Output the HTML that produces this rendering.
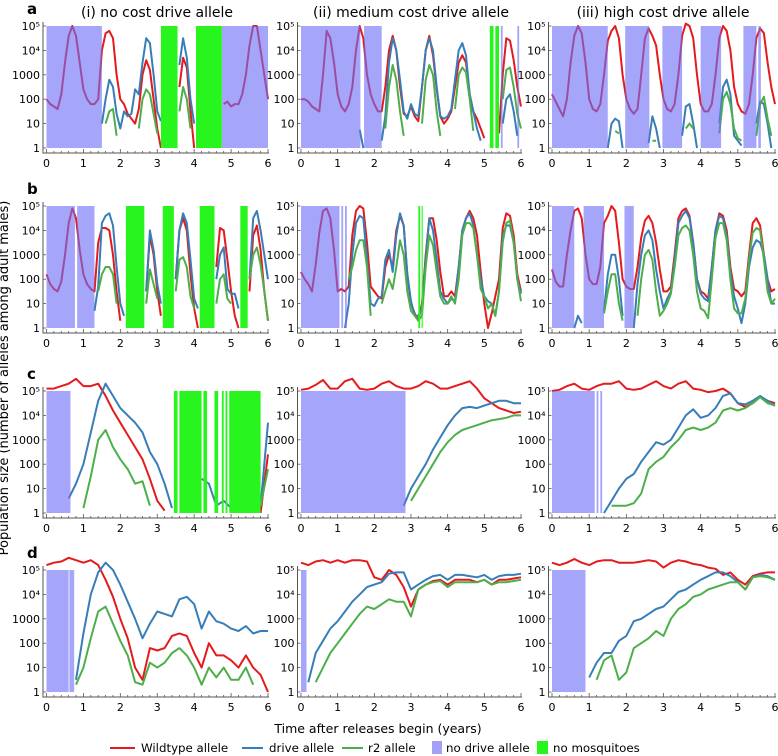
<!DOCTYPE html>
<html><head><meta charset="utf-8"><style>
html,body{margin:0;padding:0;background:#fff;}
svg{display:block;font-family:"DejaVu Sans","Liberation Sans",sans-serif;}
</style></head><body>
<svg id="fig" width="778" height="756" viewBox="0 0 778 756">
<text x="8" y="378" font-size="13" text-anchor="middle" transform="rotate(-90 8 378)">Population size (number of alleles among adult males)</text>
<text x="378" y="733" font-size="12.5" text-anchor="middle">Time after releases begin (years)</text>
<text x="157" y="17" font-size="14" text-anchor="middle">(i) no cost drive allele</text>
<text x="411" y="17" font-size="14" text-anchor="middle">(ii) medium cost drive allele</text>
<text x="663" y="17" font-size="14" text-anchor="middle">(iii) high cost drive allele</text>
<g font-size="11.8">
<line x1="110" y1="748" x2="135" y2="748" stroke="#e41a1c" stroke-width="2"/>
<text x="141" y="752">Wildtype allele</text>
<line x1="242" y1="748" x2="263" y2="748" stroke="#377eb8" stroke-width="2"/>
<text x="269" y="752">drive allele</text>
<line x1="342" y1="748" x2="363" y2="748" stroke="#4daf4a" stroke-width="2"/>
<text x="368" y="752">r2 allele</text>
<rect x="432" y="741" width="10" height="13" fill="rgb(110,110,245)" opacity="0.65"/>
<text x="446" y="752">no drive allele</text>
<rect x="537" y="741" width="11" height="13" fill="rgb(40,245,30)"/>
<text x="553" y="752">no mosquitoes</text>
</g>
</svg>
<script>
function N(k){return new Array(k).fill(null);}
// ---- data (log10 of allele count), sampled evenly over 0..6 years ----
const a1Wild=[2,1.8,1.7,1.6,2.2,3.5,4.6,5,4.6,3.5,2.4,2,1.8,1.8,2,4,4.7,4.8,4.5,3,2,1.8,1.4,1.2,1,1.6,3,3.6,3.2,2,0.8,0,null,null,null,null,2.5,3.7,3.3,1.5,0,null,null,null,null,null,null,null,1.8,1.9,1.7,1.8,1.8,2.2,3,4.2,5,5,4,3,2];
const a1Drive=[...N(15),1,2,2.8,2.5,1.4,0.8,1.5,1.3,1.4,2.4,2.2,3.5,4.5,4.3,3,1.5,1.1,...N(4),3.4,4.5,3.7,2,1,...N(20)];
const a1R2=[...N(16),1,1.5,1.6,0.5,...N(5),0.8,2,2.4,2.2,1.4,0.6,...N(5),1.5,2.5,2,0.8,...N(21)];
const a2Wild=[2,2,1.9,1.7,1.6,1.5,3,4.8,4.5,3.5,2.2,1.7,1.5,1.8,2.5,4,5,4.5,3,2.2,1.8,1.5,1.5,2.5,4,4.6,4.0,2.5,1.4,1.3,1.7,1.3,1.1,2.5,4,4.6,3.8,2.4,1.3,1.0,1.2,1.5,2.5,3.5,3.8,3.5,2.2,1.5,1.2,0.8,0.4,null,null,null,0.6,3,4.5,4.4,3.6,2.5,1.7];
const a2Drive=[...N(16),0.75,0,...N(4),0.3,1.3,3.5,4.5,4,2.8,1.5,1.2,1.8,1.4,1.3,2.5,4,4.5,4,2.5,1.3,1.2,1.3,1.6,2.8,4,4.3,3.8,2.2,1.5,0.8,0.3,...N(5),1,2,2.2,1.5,0.5,null];
const a2R2=[...N(23),0.8,2.5,3.4,2.8,1.5,0.5,...N(4),1,2.8,3.4,3,1.5,0.5,...N(3),1.6,3,3.3,3.1,2,0.7,...N(7),2,3.2,3.3,2.5,1.4,0.8];
const a3Wild=[2.2,1.9,1.6,1.3,2,3.5,4.6,5,4.7,3.5,2,1.6,1.5,1.8,3,4.4,4.8,5,4.5,3,2,1.6,1.4,1.6,3,4.5,4.9,4.6,4.2,3,2,1.6,1.5,1.8,3,4.6,5.1,5,4.5,3,1.8,1.5,1.5,1.8,3,4.5,5,4.8,4,2.5,1.8,1.5,1.4,1.8,3,4.5,4.9,4.7,3.5,2.5,1.8];
const a3Drive=[...N(15),0,1,1.2,1.1,0,...N(6),0.2,1.3,0.8,0,...N(5),0.5,1.7,1.8,1,0,...N(5),1,2.5,2.8,2.2,0.5,0.3,0.1,...N(3),1,1.9,1.8,1,0,null];
const a3R2=[...N(17),0.7,0.6,...N(8),0.3,0.3,...N(7),0.8,1,0.8,...N(6),0.6,2,2.3,1.8,0.8,0.4,0.3,...N(3),0.5,1.8,2.1,1.2,0.5,null];
const b1Wild=[2.2,1.8,1.6,1.5,1.9,3,4.3,4.9,4.5,3.2,2.2,1.8,1.6,1.5,3.5,4.1,4.1,4.0,3,1.5,0.3,...N(6),1.5,3.8,3.0,1.5,0.5,...N(3),2,4,4.5,4,2.2,0.8,0,...N(4),2.5,4.1,4,2.8,1.5,0.5,0,...N(2),1.5,3.8,4.2,3.2,1.5,0.3];
const b1Drive=[...N(13),0.7,1.7,4.3,4.6,4.7,4.2,2.5,1,0.5,...N(5),1.5,4,3.2,1.8,1,...N(3),2,4,4.7,4.3,2.8,1.2,0.8,...N(4),2,3,3.3,1.6,1.4,1.4,0.8,...N(2),2,4.5,4.8,4,3,2];
const b1R2=[...N(14),1.5,2.2,2.5,2.5,2.2,1,...N(7),1,2.4,1.8,1.2,...N(4),1.5,2.8,2.9,2.5,1.3,0.8,...N(5),1,2,2.2,1.2,1,...N(4),2,3,3.3,2.6,1.5,0.3];
const b2Wild=[2.3,2,1.8,1.5,2.6,3.9,4.8,4.9,4.5,3.2,1.5,1.6,1.5,1.7,3.8,4.8,5,4.9,3.5,1.7,1.5,1.3,1.2,2.5,3,2.5,4,4.6,4.2,2.2,1,0.6,0.3,1,3,4.5,4.5,3.6,2.3,1.3,1.3,1.5,1.3,2.5,4,4.5,4.8,4.5,3.8,2.3,1,0,0.6,1.3,2,4.1,4.7,4.6,3.8,2.2,1.5];
const b2Drive=[...N(12),0,1,3,4.3,4.6,4.5,2.8,1,0.9,1.2,1.3,2.8,3.2,2.3,3.8,4.7,4.2,2.2,1.1,0.5,0.5,0.8,2.8,4.5,4,2.8,1.5,1.2,1,1.2,1.1,2.5,4,4.5,4.7,4.2,3,2,1.3,1.1,1,0.5,1.5,3.8,4.2,4.2,3.5,2,1.4];
const b2R2=[...N(13),2,2.5,3.2,3.6,3.6,2.5,0.5,null,null,1,1.5,2,1.6,2.5,3.6,3,1.5,0.7,0.5,0.3,0.5,2.5,3.8,3.4,2.3,1.3,1,1,1.3,1,2,3.8,4.3,4.3,4.1,3,1.6,1.3,0.8,1,0.5,1.5,3.5,4.3,4.4,3.5,2,1.1];
const b3Wild=[2.4,1.9,1.7,1.7,3,4,4.8,4.9,4.5,3,2,1.8,1.8,2.5,4.3,4.6,5,4.8,3.5,2,1.7,1.6,1.6,2.5,3.7,4.4,4.6,4.3,3.5,2.4,1.5,1.5,1.7,3,4.5,4.8,4.9,4.6,3.5,2,1.5,1.4,1.2,2.5,4,4.7,4.6,4,2.5,1.6,1.5,1.3,1.5,3,4.3,4.5,4.2,3,2,1.5,1.6];
const b3Drive=[...N(6),0,0.5,0.2,...N(5),0.7,2.2,3,3,2,0.5,...N(2),0,1.8,3,3.8,4,3.6,2.4,1.5,0.8,1.2,1.5,2.8,4.3,4.6,4.8,4.5,3.5,2,1.4,1.2,1.1,2.5,4,4.6,4.5,3.8,2.3,1.3,0.8,0.2,1,2.5,3.3,3.6,3.5,3,2,1,1];
const b3R2=[...N(14),0.6,1.5,2.2,2.2,1,0.3,...N(3),0.5,2,3,3.2,2.8,1.5,0.5,0.7,1,1.4,2.5,3.8,4.1,4.2,4,3,1.5,0.8,0.7,0.4,2,3.7,4.3,4.3,3.6,2,0.8,0.6,0.6,1.2,2.8,3.9,4.1,4,2.8,1.5,1,1.2];
const c1Wild=[5.1,5.1,5.2,5.3,5.5,5.2,5.2,5.3,4.8,4.2,3.7,3.2,2.7,2.2,1.4,0.5,0.1,...N(12),0,2.4];
const c1Drive=[...N(3),0.6,1.2,2,3.3,4.6,5.3,4.8,4.3,4.0,3.7,3.3,2.5,2,1.2,0.2,...N(3),1.4,1.2,0.3,0.5,0.2,...N(3),0.3,3.7];
const c1R2=[...N(5),0.2,1.5,3,3.4,2.7,2.2,1.8,1.2,1.3,0.3,...N(14),0.3,1.8];
const c2Wild=[5.05,5.1,5.25,5.45,5.1,5.1,5.4,5.5,5.1,5.05,5.1,5.3,5.4,5.2,5.1,5.1,5.2,5.4,5.3,5.1,5.1,5.2,5.3,5.4,5.1,4.7,4.5,4.3,4.2,4.1,4.15];
const c2Drive=[...N(14),0.3,1,1.5,2,2.6,3.1,3.6,4.0,4.3,4.35,4.3,4.4,4.5,4.6,4.6,4.5,4.5];
const c2R2=[...N(15),0.5,1,1.5,2,2.5,2.9,3.2,3.4,3.5,3.6,3.7,3.8,3.85,3.9,4,4];
const c3Wild=[5,5.05,5.2,5.3,5.1,5.05,5.2,5.3,5.3,5.4,5.1,5.05,5.1,5.25,5.4,5.2,5.1,5.3,5.4,5.1,5.05,4.95,5,5.1,4.9,4.5,4.35,4.5,4.75,4.6,4.5];
const c3Drive=[...N(7),0,0.5,1,1.4,1.6,2.1,2.5,2.9,2.8,3,3.5,4,4.25,3.9,4,4.3,4.8,4.9,4.5,4.45,4.6,4.8,4.6,4.4];
const c3R2=[...N(8),0.3,0.3,0.3,0.4,0.8,1.8,2.1,2.3,2.7,3,3.4,3.5,3.4,3.5,3.7,4.2,4.3,4.2,4.3,4.5,4.75,4.5,4.4];
const d1Wild=[5.2,5.3,5.35,5.5,5.4,5.3,5.4,5.2,4.6,3.9,3.0,2.2,1,0.5,1.8,1.7,1.8,2.3,2.4,2.3,1.6,1,2,1.5,1.5,1.3,1,1.5,1,0.7,0];
const d1Drive=[...N(4),0.5,2.4,4,4.9,5.3,5,4.4,3.7,3,2.2,2.8,3.3,3.2,3.1,3.8,3.9,3.6,2.6,3.3,2.9,2.8,2.6,2.5,2.7,2.4,2.5,2.5];
const d1R2=[...N(4),0.3,1,2.2,3.3,3.5,2.8,2.1,1.5,0.4,0.3,1.2,1,1.2,1.6,1.8,1.5,1,0.3,1,0.6,1,0.5,0.5,1,0.3,null,null];
const d2Wild=[5.3,5.2,5.35,5.4,5.3,5.4,5.3,5.4,5.4,5.35,4.7,4.6,5.0,4.8,4.3,3.5,4.2,4.4,4.55,4.6,4.4,4.6,4.6,4.6,4.5,4.6,4.4,4.6,4.6,4.65,4.7];
const d2Drive=[null,0.4,1.6,2.1,2.6,2.9,3.3,3.7,4.0,4.3,4.4,4.5,4.85,4.9,4.9,4.2,4.4,4.6,4.75,4.8,4.6,4.8,4.8,4.75,4.7,4.8,4.6,4.75,4.8,4.8,4.85];
const d2R2=[null,null,0.4,1,1.6,2,2.4,2.8,3.2,3.5,3.4,3.6,3.8,3.7,3.7,3.1,4.2,4.4,4.5,4.55,4.3,4.5,4.5,4.5,4.5,4.6,4.4,4.5,4.5,4.55,4.6];
const d3Wild=[5.3,5.2,5.3,5.45,5.3,5.2,5.35,5.4,5.4,5.3,5.3,5.3,5.35,5.4,5.35,5.1,5.3,5.4,5.35,5.25,5.2,5.1,5.05,4.8,4.9,4.6,4.4,4.75,4.85,4.9,4.9];
const d3Drive=[...N(5),0.6,1.2,1.6,1.6,2.1,2.3,2.9,3,3.2,3.4,3.5,3.8,4.1,4.2,4.4,4.6,4.75,4.9,4.9,4.75,4.5,4.2,4.7,4.8,4.75,4.6];
const d3R2=[...N(6),0.5,1.3,1.5,0.5,0.8,1.8,2,2.2,2.5,2.3,3,3.4,3.6,3.9,4,4.2,4.3,4.4,4.5,4.5,4.2,4.7,4.75,4.7,4.6];
// intervals (years)
const a1NoDrive=[[0,1.5],[4.75,6]];
const a1NoMosq=[[3.1,3.55],[4.05,4.75]];
const a2NoDrive=[[0,1.62],[1.72,2.2],[5.45,5.5],[5.9,5.95]];
const a2NoMosq=[[5.15,5.25],[5.3,5.4]];
const a3NoDrive=[[0,1.5],[1.97,2.62],[2.97,3.5],[4.0,4.55],[5.15,5.5],[5.55,5.62]];
const a3NoMosq=[];
const b1NoDrive=[[0,0.77],[0.83,1.3]];
const b1NoMosq=[[2.15,2.65],[3.15,3.45],[4.15,4.55],[5.25,5.45]];
const b2NoDrive=[[0,1.05],[1.1,1.15],[1.2,1.25]];
const b2NoMosq=[[3.2,3.25],[3.29,3.32]];
const b3NoDrive=[[0,0.6],[0.85,1.4],[1.95,2.2]];
const b3NoMosq=[];
const c1NoDrive=[[0,0.65]];
const c1NoMosq=[[3.45,3.55],[3.6,4.2],[4.25,4.35],[4.55,4.65],[4.75,4.8],[4.85,4.9],[4.95,5.8]];
const c2NoDrive=[[0,2.85]];
const c2NoMosq=[];
const c3NoDrive=[[0,1.15],[1.2,1.25],[1.3,1.35]];
const c3NoMosq=[];
const d1NoDrive=[[0,0.6],[0.62,0.75]];
const d1NoMosq=[];
const d2NoDrive=[[0,0.15]];
const d2NoMosq=[];
const d3NoDrive=[[0,0.9]];
const d3NoMosq=[];
const yTickVals=[0,1,2,3,4,5];
const yTickLabels=["1","10","100","1000","10⁴","10⁵"];
const xTickVals=[0,1,2,3,4,5,6];
const rowLetters=["a","b","c","d"];

const rowTop=[26,206,391,570];
const colX0=[46.5,301,552];
const colX6=[268,521,775];
const DEC=24.4;
const panels=[
 [a1Wild,a1Drive,a1R2,a1NoDrive,a1NoMosq],[a2Wild,a2Drive,a2R2,a2NoDrive,a2NoMosq],[a3Wild,a3Drive,a3R2,a3NoDrive,a3NoMosq],
 [b1Wild,b1Drive,b1R2,b1NoDrive,b1NoMosq],[b2Wild,b2Drive,b2R2,b2NoDrive,b2NoMosq],[b3Wild,b3Drive,b3R2,b3NoDrive,b3NoMosq],
 [c1Wild,c1Drive,c1R2,c1NoDrive,c1NoMosq],[c2Wild,c2Drive,c2R2,c2NoDrive,c2NoMosq],[c3Wild,c3Drive,c3R2,c3NoDrive,c3NoMosq],
 [d1Wild,d1Drive,d1R2,d1NoDrive,d1NoMosq],[d2Wild,d2Drive,d2R2,d2NoDrive,d2NoMosq],[d3Wild,d3Drive,d3R2,d3NoDrive,d3NoMosq]];
const rowNames=["a","b","c","d"],colNames=["no-cost","medium-cost","high-cost"];
const svg=document.getElementById('fig');
const NS="http://www.w3.org/2000/svg";
function mk(tag,attrs,parent){const e=document.createElementNS(NS,tag);for(const k in attrs)e.setAttribute(k,attrs[k]);(parent||svg).appendChild(e);return e;}
const colors=["#e41a1c","#377eb8","#4daf4a"];
const serNames=["wildtype","drive","r2"];
panels.forEach((p,idx)=>{
 const r=Math.floor(idx/3),c=idx%3;
 const xs=t=>colX0[c]+(colX6[c]-colX0[c])*t/6;
 const ys=v=>rowTop[r]+(5-v)*DEC;
 const g=mk('g',{});
 
 
 for(let s=0;s<3;s++){
  const arr=p[s];const n=arr.length;let d="";let pen=false;
  for(let i=0;i<n;i++){const v=arr[i];
   if(v===null){pen=false;continue;}
   const t=i*6/(n-1);
   d+=(pen?"L":"M")+xs(t).toFixed(1)+" "+ys(v).toFixed(1);pen=true;}
  const path=mk('path',{d:d,fill:"none",stroke:colors[s],"stroke-width":"2","stroke-linejoin":"round"},g);
  
  
 }
 p[3].forEach(iv=>{const rc=mk('rect',{x:xs(iv[0]),y:ys(5),width:Math.max(1,xs(iv[1])-xs(iv[0])),height:5*DEC,fill:"rgb(110,110,245)",opacity:"0.62"},g);
  
  });
 p[4].forEach(iv=>{const rc=mk('rect',{x:xs(iv[0]),y:ys(5),width:Math.max(1,xs(iv[1])-xs(iv[0])),height:5*DEC,fill:"rgb(40,245,30)"},g);
  
  });
 const axL=colX0[c]-3.5, axB=ys(0)+5;
 const ax=mk('path',{d:`M${axL} ${rowTop[r]-4}V${axB}H${colX6[c]+1}`,fill:"none",stroke:"#555","stroke-width":"1"},g);
 
 
 for(let t=0;t<=6.001;t+=0.2){const big=Math.abs(t-Math.round(t))<0.01;mk('line',{x1:xs(t),x2:xs(t),y1:axB,y2:axB-(big?4:2),stroke:"#555","stroke-width":"0.8"},g);}
 yTickVals.forEach((v,i)=>{mk('line',{x1:axL,x2:axL+3,y1:ys(v),y2:ys(v),stroke:"#555","stroke-width":"0.8"},g);
  const tx=mk('text',{x:axL-3,y:ys(v)+4,"font-size":"11","text-anchor":"end"},g);tx.textContent=yTickLabels[i];
  
  });
 xTickVals.forEach(v=>{const tx=mk('text',{x:xs(v),y:axB+14,"font-size":"11","text-anchor":"middle"},g);tx.textContent=String(v);
  
  });
 if(c===0){const L=mk('text',{x:27,y:rowTop[r]-12,"font-size":"15","font-weight":"bold"},g);L.textContent=rowLetters[r];
  
  }
});
</script>
</body></html>
